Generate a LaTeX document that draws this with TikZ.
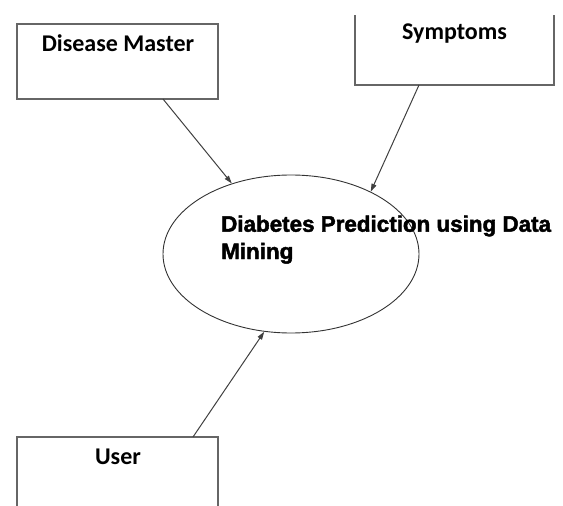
\documentclass[tikz,border=0pt]{standalone}
\usepackage{fontspec}
\newfontfamily\boxfont{Carlito}
\newfontfamily\procfont{Liberation Sans}[BoldFeatures={FakeBold=2}]
\usetikzlibrary{shapes.geometric,arrows.meta}
\begin{document}
\begin{tikzpicture}[x=1pt,y=-1pt,
  boxframe/.style={draw=black!60,line width=1.4pt},
  boxarea/.style={rectangle,inner sep=0pt,outer sep=0pt},
  boxlabel/.style={inner sep=0pt,anchor=base,font=\boxfont\bfseries\fontsize{24}{28}\selectfont},
  proc/.style={ellipse,draw=black!80,line width=0.9pt,inner sep=0pt,minimum width=256pt,minimum height=158pt},
  flow/.style={draw=black!75,line width=1pt,-{Triangle[length=8pt,width=5pt]}}]
\useasboundingbox (0,0) rectangle (563,506);
% Disease Master
\node[boxarea,boxframe,minimum width=201pt,minimum height=75pt] (dm) at (117.5,61.5) {};
\node[boxlabel] (dmt) at (118,52) {Disease Master};
% Symptoms (no top edge)
\node[boxarea,minimum width=199pt,minimum height=70pt] (sym) at (454.5,50) {};
\draw[boxframe] (sym.north west) -- (sym.south west) -- (sym.south east) -- (sym.north east);
\node[boxlabel] (symt) at (454.5,39) {Symptoms};
% User (runs off the bottom)
\node[boxarea,minimum width=201pt,minimum height=69pt] (user) at (117.5,471.5) {};
\draw[boxframe] (user.south west) -- (user.north west) -- (user.north east) -- (user.south east);
\node[boxlabel] (usert) at (118,464) {User};
% Process
\node[proc] (el) at (291,254) {};
\node[inner sep=0pt,anchor=base west,align=left,font=\procfont\bfseries\fontsize{22.4}{27.3}\selectfont] (pt) at (221,259) {Diabetes Prediction using Data\\Mining};
% Connectors
\coordinate (a1) at (163,99);
\coordinate (a2) at (419,85);
\coordinate (a3) at (193,437);
\draw[flow] (a1) -- (el.130);
\draw[flow] (a2) -- (el.38);
\draw[flow] (a3) -- (el.251);
\end{tikzpicture}
\end{document}
